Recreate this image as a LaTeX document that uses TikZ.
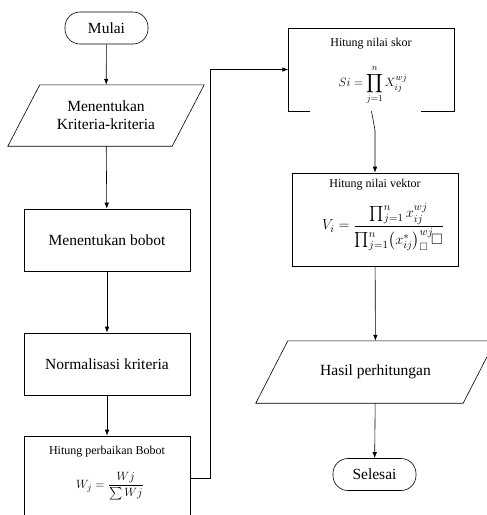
\documentclass[tikz,border=0pt]{standalone}
\usepackage{amsmath,amssymb}
\usepackage{fontspec}
\setmainfont{Liberation Serif}
\usetikzlibrary{arrows.meta, positioning}

\begin{document}
\begin{tikzpicture}[
    x=1pt, y=-1pt,
    % Styles for the flowchart
    terminal/.style={
        rectangle, rounded corners=15pt, draw, line width=0.6pt,
        minimum width=83pt, minimum height=32pt, inner sep=0pt,
        font=\fontsize{15.5}{18}\selectfont
    },
    io/.style={
        rectangle, minimum height=61pt, inner sep=0pt, align=center,
        font=\fontsize{15.5}{18}\selectfont
    },
    slanted/.style={line width=0.6pt},
    process/.style={
        rectangle, draw, line width=0.6pt,
        minimum width=166pt, minimum height=62pt, inner sep=0pt,
        align=center, font=\fontsize{15.5}{18}\selectfont
    },
    caption/.style={
        inner sep=0pt, font=\fontsize{12}{14}\selectfont
    },
    formula/.style={inner sep=0pt},
    arrow/.style={
        -{Latex[length=6pt, width=4.5pt]}, line width=0.6pt
    }
]
    \useasboundingbox (0,0) rectangle (487,515);

    % --- Left column ---
    \node[terminal] (mulai) at (106.5,28) {Mulai};
    \node[io, minimum width=164pt] (kriteria) at (106,115.5)
        {Menentukan\\Kriteria-kriteria};
    \draw[slanted] ([xshift=16pt]kriteria.north west) -- ([xshift=16pt]kriteria.north east)
        -- ([xshift=-16pt]kriteria.south east) -- ([xshift=-16pt]kriteria.south west) -- cycle;
    \node[process] (bobot) at (107,240) {Menentukan bobot};
    \node[process] (normal) at (107,364) {Normalisasi kriteria};

    % Hitung perbaikan Bobot (runs off the page bottom)
    \node[process, minimum height=84pt] (perbaikan) at (107,478) {};
    \node[caption] (perbaikantitle) at (107,452) {Hitung perbaikan Bobot};
    \node[formula] (perbaikanformula) at (110,486)
        {\fontsize{12.5}{14}\selectfont $W_j = \dfrac{Wj}{\sum Wj}$};

    % --- Right column ---
    % Hitung nilai skor (bottom edge is broken under the formula)
    \node[minimum width=166pt, minimum height=83pt, inner sep=0pt] (skor) at (371.5,69.5) {};
    \draw[line width=0.6pt] ([xshift=22pt]skor.south west) -- (skor.south west)
        |- (skor.north east) -- (skor.south east) -- ([xshift=-34pt]skor.south east);
    \node[caption] (skortitle) at (371,44) {Hitung nilai skor};
    \node[formula] (skorformula) at (373,85)
        {\fontsize{13}{15}\selectfont $\displaystyle Si = \prod_{j=1}^{n} X_{ij}^{wj}$};

    % Hitung nilai vektor
    \node[process, minimum height=93pt] (vektor) at (375,219.5) {};
    \node[caption] (vektortitle) at (375,185) {Hitung nilai vektor};
    \node[formula] (vektorformula) at (383,227)
        {\fontsize{15}{17}\selectfont $V_i = \dfrac{\prod_{j=1}^{n} x_{ij}^{wj}}{\prod_{j=1}^{n}\bigl(x_{ij}^{*}\bigr)^{wj}_{\square}\!\square}$};

    \node[io, minimum width=207pt, minimum height=62pt] (hasil) at (375.5,372) {Hasil perhitungan};
    \draw[slanted] ([xshift=16pt]hasil.north west) -- ([xshift=16pt]hasil.north east)
        -- ([xshift=-16pt]hasil.south east) -- ([xshift=-16pt]hasil.south west) -- cycle;
    \node[terminal] (selesai) at (374.5,474.5) {Selesai};

    % --- Connectors ---
    \coordinate (bend) at (210,478);
    \draw[arrow] (mulai) -- (kriteria);
    \draw[arrow] (kriteria) -- (bobot);
    \draw[arrow] (bobot) -- (normal);
    \draw[arrow] (normal) -- (perbaikan);
    \draw[arrow] (perbaikan.east) -- (bend) |- (skor.west);
    \draw[arrow] (skor.south) -- ++(3.5,19) -- (vektor.north);
    \draw[arrow] (vektor) -- (hasil);
    \draw[arrow] (hasil) -- (selesai);
\end{tikzpicture}
\end{document}
